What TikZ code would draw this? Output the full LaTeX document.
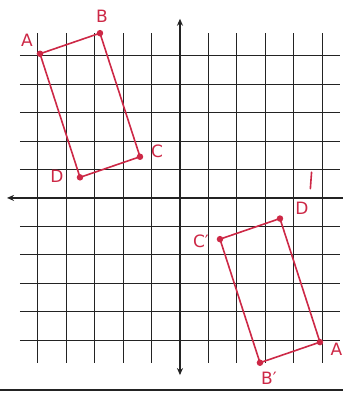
\documentclass[tikz,border=0pt]{standalone}
\usepackage{fontspec}
\setmainfont{DejaVu Sans}
\usetikzlibrary{arrows.meta}
\definecolor{ink}{RGB}{205,40,70}
\definecolor{pencil}{RGB}{35,35,35}
\tikzset{
  gridline/.style={pencil, line width=1pt},
  axisline/.style={pencil, line width=1.4pt, -{Stealth[length=7pt,width=6pt]}},
  quad/.style={ink, line width=1.6pt, line join=round},
  vertex/.style={circle, fill=ink, inner sep=0pt, minimum size=6.5pt},
  lbl/.style={ink, font=\fontsize{17}{17}\selectfont, inner sep=0pt},
}
\begin{document}
\begin{tikzpicture}[x=20pt,y=20.6pt]
\useasboundingbox (-9,-9.47) rectangle (8.15,9.61);
\clip (-9,-9.47) rectangle (8.15,9.61);
\fill[white] (-9,-9.47) rectangle (8.15,9.61);
% grid
\draw[gridline] (-8,-8) grid (8,8);
% axes
\draw[axisline] (0,0) -- (-8.65,0);
\draw[axisline] (0,0) -- (8.7,0);
\draw[axisline] (0,0) -- (0,8.7);
\draw[axisline] (0,0) -- (0,-8.6);
% page line at bottom
\draw[pencil, line width=1.5pt] (-9.2,-9.32) -- (8.4,-9.32);
% original figure
\node[vertex] (A) at (-7,7) {};
\node[vertex] (B) at (-4,8) {};
\node[vertex] (C) at (-2,2) {};
\node[vertex] (D) at (-5,1) {};
\draw[quad] (A.center) -- (B.center) -- (C.center) -- (D.center) -- cycle;
\node[lbl] (lA) at (-7.65,7.65) {A};
\node[lbl] (lB) at (-3.9,8.8) {B};
\node[lbl] (lC) at (-1.15,2.25) {C};
\node[lbl] (lD) at (-6.15,1.05) {D};
% image figure
\node[vertex] (A1) at (7,-7) {};
\node[vertex] (B1) at (4,-8) {};
\node[vertex] (C1) at (2,-2) {};
\node[vertex] (D1) at (5,-1) {};
\draw[quad] (A1.center) -- (B1.center) -- (C1.center) -- (D1.center) -- cycle;
\node[lbl] (lA1) at (7.83,-7.35) {A};
\node[lbl] (lB1) at (4.45,-8.75) {B′};
\node[lbl] (lC1) at (1.05,-2.1) {C′};
\node[lbl] (lD1) at (6.1,-0.5) {D};
\coordinate (p1) at (6.58,1.25);
\coordinate (p2) at (6.52,0.45);
\draw[ink, line width=1.6pt, line cap=round] (p1) -- (p2);
\end{tikzpicture}
\end{document}
